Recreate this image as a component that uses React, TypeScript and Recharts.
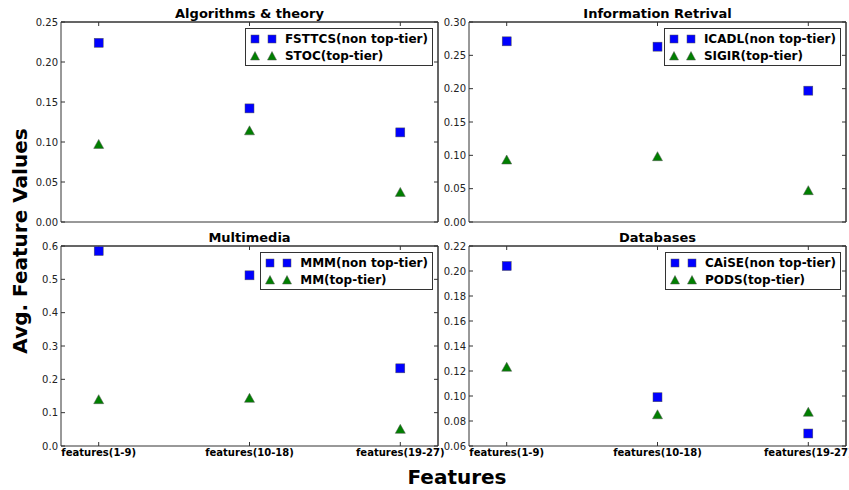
import { ReferenceLine, Scatter, ScatterChart, XAxis, YAxis } from "recharts";

const categories = ["features(1-9)", "features(10-18)", "features(19-27)"];

const fsttcsValues = [0.224, 0.142, 0.112];
const stocValues = [0.097, 0.114, 0.037];
const icadlValues = [0.271, 0.263, 0.197];
const sigirValues = [0.093, 0.098, 0.047];
const mmmValues = [0.585, 0.512, 0.233];
const mmValues = [0.139, 0.143, 0.05];
const caiseValues = [0.204, 0.099, 0.07];
const podsValues = [0.123, 0.085, 0.087];

const algoTicks = [0, 0.05, 0.1, 0.15, 0.2, 0.25];
const irTicks = [0, 0.05, 0.1, 0.15, 0.2, 0.25, 0.3];
const mmTicks = [0, 0.1, 0.2, 0.3, 0.4, 0.5, 0.6];
const dbTicks = [0.06, 0.08, 0.1, 0.12, 0.14, 0.16, 0.18, 0.2, 0.22];

const X_DOMAIN: [number, number] = [-0.25, 2.25];

const FONT = '"DejaVu Sans", sans-serif';
const BLUE = "#0000ff";
const GREEN = "#007f00";
const FRAME = "#333";
const PLOT_W = 377;
const PLOT_H = 200;
const Y_AXIS_W = 61;
const TOP_PAD = 22;
const RIGHT_PAD = 12;

const toPoints = (values: number[]) => values.map((y, x) => ({ x, y }));

const squareShape = (props: any) => {
	const { cx, cy } = props;
	return <rect x={cx - 4.5} y={cy - 4.5} width={9} height={9} fill={BLUE} stroke="#555" strokeWidth={0.5} />;
};

const triangleShape = (props: any) => {
	const { cx, cy } = props;
	return (
		<path
			d={`M${cx},${cy - 5} L${cx + 5},${cy + 4} L${cx - 5},${cy + 4} Z`}
			fill={GREEN}
			stroke="#555"
			strokeWidth={0.5}
		/>
	);
};

function LegendBox({ names }: { names: [string, string] }) {
	const row = (name: string, kind: "square" | "triangle") => (
		<div style={{ display: "flex", alignItems: "center", height: 17 }}>
			<svg width={39} height={12}>
				{[9, 26].map((cx) =>
					kind === "square" ? (
						<rect key={cx} x={cx - 4} y={2} width={8} height={8} fill={BLUE} stroke="#555" strokeWidth={0.5} />
					) : (
						<path
							key={cx}
							d={`M${cx},${1.5} L${cx + 4.5},${10} L${cx - 4.5},${10} Z`}
							fill={GREEN}
							stroke="#555"
							strokeWidth={0.5}
						/>
					),
				)}
			</svg>
			<span>{name}</span>
		</div>
	);
	return (
		<div
			style={{
				position: "absolute",
				right: RIGHT_PAD + 5,
				top: TOP_PAD + 6,
				background: "white",
				border: `1px solid ${FRAME}`,
				padding: "1px 4px 1px 0",
				fontFamily: FONT,
				fontWeight: "bold",
				fontSize: 12,
				color: "#000",
				whiteSpace: "nowrap",
			}}
		>
			{row(names[0], "square")}
			{row(names[1], "triangle")}
		</div>
	);
}

interface PanelProps {
	plotLeft: number;
	plotTop: number;
	title: string;
	yDomain: [number, number];
	yTicks: number[];
	decimals: number;
	nonTopName: string;
	topName: string;
	nonTopValues: number[];
	topValues: number[];
	showXLabels: boolean;
}

function Panel({
	plotLeft,
	plotTop,
	title,
	yDomain,
	yTicks,
	decimals,
	nonTopName,
	topName,
	nonTopValues,
	topValues,
	showXLabels,
}: PanelProps) {
	const width = Y_AXIS_W + PLOT_W + RIGHT_PAD;
	const height = TOP_PAD + PLOT_H + 30;
	return (
		<div style={{ position: "absolute", left: plotLeft - Y_AXIS_W, top: plotTop - TOP_PAD, width, height }}>
			<div
				style={{
					position: "absolute",
					left: Y_AXIS_W,
					top: 4,
					width: PLOT_W,
					height: 20,
					lineHeight: "20px",
					textAlign: "center",
					fontFamily: FONT,
					fontWeight: "bold",
					fontSize: 13,
					color: "#000",
				}}
			>
				{title}
			</div>
			<ScatterChart
				width={width}
				height={height}
				margin={{ top: TOP_PAD - 1, right: RIGHT_PAD - 1, bottom: 0, left: 0 }}
			>
				<XAxis
					xAxisId="b"
					type="number"
					dataKey="x"
					orientation="bottom"
					domain={X_DOMAIN}
					ticks={[0, 1, 2]}
					height={30}
					stroke={FRAME}
					tickSize={-4}
					tickMargin={7}
					tick={showXLabels ? { fontSize: 10, fontWeight: "bold", fill: "#000", fontFamily: FONT } : false}
					tickFormatter={(v: number) => categories[v] ?? ""}
					allowDataOverflow
				/>
				<XAxis
					xAxisId="t"
					type="number"
					dataKey="x"
					orientation="top"
					domain={X_DOMAIN}
					ticks={[0, 1, 2]}
					height={1}
					stroke={FRAME}
					tickSize={-4}
					tick={() => <g />}
					allowDataOverflow
				/>
				<YAxis
					yAxisId="l"
					type="number"
					dataKey="y"
					domain={yDomain}
					ticks={yTicks}
					width={Y_AXIS_W}
					stroke={FRAME}
					tickSize={-4}
					tickMargin={7}
					tick={{ fontSize: 10, fill: "#222", fontFamily: FONT }}
					tickFormatter={(v: number) => v.toFixed(decimals)}
					interval={0}
					allowDataOverflow
				/>
				<YAxis
					yAxisId="r"
					type="number"
					dataKey="y"
					orientation="right"
					domain={yDomain}
					ticks={yTicks}
					width={1}
					stroke={FRAME}
					tickSize={-4}
					tick={() => <g />}
					interval={0}
					allowDataOverflow
				/>
				{/* plot frame: top and right edges */}
				<ReferenceLine xAxisId="b" yAxisId="l" y={yDomain[1]} stroke={FRAME} ifOverflow="visible" />
				<ReferenceLine xAxisId="b" yAxisId="l" x={X_DOMAIN[1]} stroke={FRAME} ifOverflow="visible" />
				<Scatter
					name={nonTopName}
					xAxisId="b"
					yAxisId="l"
					data={toPoints(nonTopValues)}
					shape={squareShape}
					isAnimationActive={false}
				/>
				<Scatter
					name={topName}
					xAxisId="b"
					yAxisId="l"
					data={toPoints(topValues)}
					shape={triangleShape}
					isAnimationActive={false}
				/>
				{/* empty series so the top / right tick axes get rendered */}
				<Scatter xAxisId="t" yAxisId="r" data={[]} legendType="none" isAnimationActive={false} />
			</ScatterChart>
			<LegendBox names={[nonTopName, topName]} />
		</div>
	);
}

export default function App() {
	return (
		<div
			style={{
				position: "absolute",
				left: 0,
				top: 0,
				width: 849,
				height: 490,
				background: "white",
				overflow: "hidden",
			}}
		>
			<Panel
				plotLeft={61}
				plotTop={22}
				title="Algorithms & theory"
				yDomain={[0, 0.25]}
				yTicks={algoTicks}
				decimals={2}
				nonTopName="FSTTCS(non top-tier)"
				topName="STOC(top-tier)"
				nonTopValues={fsttcsValues}
				topValues={stocValues}
				showXLabels={false}
			/>
			<Panel
				plotLeft={469}
				plotTop={22}
				title="Information Retrival"
				yDomain={[0, 0.3]}
				yTicks={irTicks}
				decimals={2}
				nonTopName="ICADL(non top-tier)"
				topName="SIGIR(top-tier)"
				nonTopValues={icadlValues}
				topValues={sigirValues}
				showXLabels={false}
			/>
			<Panel
				plotLeft={61}
				plotTop={246}
				title="Multimedia"
				yDomain={[0, 0.6]}
				yTicks={mmTicks}
				decimals={1}
				nonTopName="MMM(non top-tier)"
				topName="MM(top-tier)"
				nonTopValues={mmmValues}
				topValues={mmValues}
				showXLabels
			/>
			<Panel
				plotLeft={469}
				plotTop={246}
				title="Databases"
				yDomain={[0.06, 0.22]}
				yTicks={dbTicks}
				decimals={2}
				nonTopName="CAiSE(non top-tier)"
				topName="PODS(top-tier)"
				nonTopValues={caiseValues}
				topValues={podsValues}
				showXLabels
			/>
			<div
				style={{
					position: "absolute",
					left: 20 - 150,
					top: 241 - 14,
					width: 300,
					height: 28,
					lineHeight: "28px",
					textAlign: "center",
					transform: "rotate(-90deg)",
					fontFamily: FONT,
					fontWeight: "bold",
					fontSize: 20,
					color: "#000",
				}}
			>
				Avg. Feature Values
			</div>
			<div
				style={{
					position: "absolute",
					left: 457 - 100,
					top: 477 - 14,
					width: 200,
					height: 28,
					lineHeight: "28px",
					textAlign: "center",
					fontFamily: FONT,
					fontWeight: "bold",
					fontSize: 20,
					color: "#000",
				}}
			>
				Features
			</div>
		</div>
	);
}
